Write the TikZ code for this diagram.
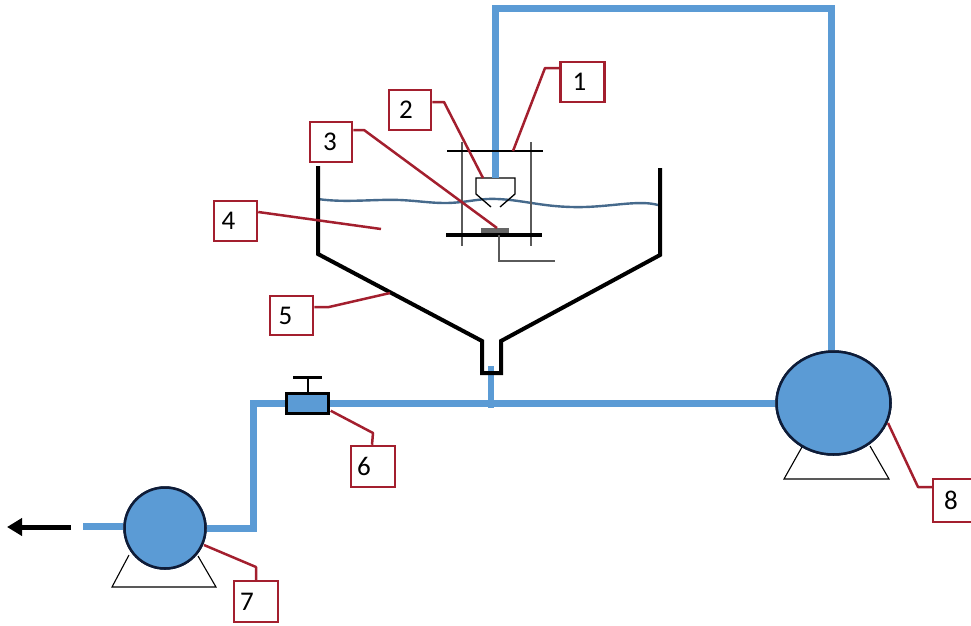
\documentclass[tikz,border=0pt]{standalone}
\usepackage{fontspec}
\setmainfont{Carlito}
\usetikzlibrary{shapes.geometric,arrows.meta,calc}
\definecolor{pipeblue}{HTML}{5B9BD5}
\definecolor{leadred}{HTML}{A31F2E}
\definecolor{navy}{HTML}{0E1C38}
\definecolor{water}{HTML}{466A8C}
\definecolor{frame}{HTML}{5A5A5A}
\definecolor{samplegrey}{HTML}{666666}
\newcommand{\shifted}[2]{\makebox[0pt]{\kern#1pt #2}}
\tikzset{
  pipe/.style={draw=pipeblue,line width=7pt,line join=miter},
  lead/.style={draw=leadred,line width=2.5pt,line join=round},
  lbl/.style={draw=leadred,line width=2.5pt,fill=white,rectangle,inner sep=0pt,font=\fontsize{27}{27}\selectfont,text=black},
  pump/.style={draw=navy,line width=2.5pt,fill=pipeblue,ellipse,inner sep=0pt},
  tank/.style={draw=black,line width=4pt,line join=miter},
  stand/.style={draw=black,line width=1.1pt,line join=miter},
  thin frame/.style={draw=frame,line width=1.6pt},
}
\begin{document}
\begin{tikzpicture}[x=1pt,y=-1pt]
\useasboundingbox (0,0) rectangle (971,625);
\clip (0,0) rectangle (971,625);
% named points
\coordinate (nozzletop) at (495,178);
\coordinate (topL) at (495,8);
\coordinate (topR) at (831,8);
\coordinate (corner) at (253,403);
\coordinate (elbow) at (253,531);
\coordinate (teeTop) at (491,366);
\coordinate (teeBot) at (491,408);
\coordinate (outStart) at (83,526);
\coordinate (arrowTail) at (71,527);
\coordinate (arrowTip) at (7,527);
% stands
\draw[stand] (802,447) -- (784,479) -- (889,479) -- (870,446);
\draw[stand] (129,555) -- (112,587) -- (216,587) -- (198,556);
% nodes for pumps and valve
\node[pump,minimum width=114pt,minimum height=103pt] (p8) at (833.5,403) {};
\node[pump,minimum width=81pt,minimum height=81pt] (p7) at (165,528) {};
% pipes
\draw[pipe] (nozzletop) -- (topL) -- (topR) -- (p8.north -| topR);
\draw[pipe] (p8.west) -- (corner) -- (elbow);
\draw[pipe] (elbow |- p7.east) ++(3.5,0) -- (p7.east);
\draw[pipe] (outStart) -- (p7.west |- outStart);
\draw[draw=pipeblue,line width=6pt] (teeTop) -- (teeBot);
% redraw pumps above pipes
\node[pump,minimum width=114pt,minimum height=103pt] at (833.5,403) {};
\node[pump,minimum width=81pt,minimum height=81pt] at (165,528) {};
% valve
\node[draw=black,line width=2.5pt,fill=pipeblue,rectangle,inner sep=0pt,minimum width=42pt,minimum height=20pt] (valve) at (307.5,403.5) {};
\coordinate (handle) at (308,377);
\draw[black,line width=2.2pt] (valve.north -| handle) -- (handle);
\draw[black,line width=3pt] (293,377) -- (322,377);
% outlet arrow
\draw[black,line width=5pt,-{Triangle[length=15pt,width=17pt]}] (arrowTail) -- (arrowTip);
% water surface
\draw[water,line width=2.4pt] (318,199) .. controls (345,203) and (375,199) .. (400,200)
  .. controls (420,201) and (430,203) .. (445,203)
  .. controls (465,203) and (480,198) .. (497,199)
  .. controls (525,200) and (545,208) .. (585,207)
  .. controls (615,206) and (640,200) .. (658,205);
% tank
\draw[tank] (318,166) -- (318,254) -- (482,341) -- (482,373) -- (501,373) -- (501,341) -- (660,255) -- (660,168);
\draw[draw=pipeblue,line width=6pt] (teeTop) -- (491,371);
% frame
\draw[thin frame] (462,142) -- (462,246);
\draw[thin frame] (531,142) -- (531,246);
\draw[black,line width=1.4pt] (447,151) -- (543,151);
\coordinate (wireA) at (499,261);
\coordinate (wireB) at (555,261);
\node[draw=none,fill=samplegrey,rectangle,inner sep=0pt,minimum width=28pt,minimum height=7pt] (sample) at (495,231) {};
\draw[black,line width=3.2pt] (446,235) -- (542,235);
\draw[frame,line width=1.6pt] (499,235) -- (wireA) -- (wireB);
% nozzle
\draw[black,line width=1.3pt,line join=miter] (491,207) -- (476,194) -- (476,178) -- (515,178) -- (515,194) -- (500,207);
\draw[pipe] (nozzletop) -- (495,165);
% labels
\node[lbl,minimum width=44pt,minimum height=40pt] (b1) at (582.5,82) {\shifted{-6}{1}};
\node[lbl,minimum width=42pt,minimum height=40pt] (b2) at (410,110) {\shifted{-8}{2}};
\node[lbl,minimum width=42pt,minimum height=40pt] (b3) at (331,142) {\shifted{-2}{3}};
\node[lbl,minimum width=43pt,minimum height=40pt] (b4) at (235.5,221) {\shifted{-14}{4}};
\node[lbl,minimum width=43pt,minimum height=39pt] (b5) at (291.5,315.5) {\shifted{-12}{5}};
\node[lbl,minimum width=44pt,minimum height=41pt] (b6) at (373,466.5) {\shifted{-18}{6}};
\node[lbl,minimum width=44pt,minimum height=41pt] (b7) at (256,601.5) {\shifted{-18}{7}};
\node[lbl,minimum width=44pt,minimum height=43pt] (b8) at (955,500.5) {\shifted{-8}{8}};
% leaders
\draw[lead] (b1.west |- 0,68) -- (545,68) -- (513,151);
\draw[lead] (b2.east |- 0,102) -- (444,102) -- (483,178);
\draw[lead] (b3.east |- 0,130) -- (364,130) -- (497,228);
\draw[lead] (b4.east |- 0,212) -- (381,229);
\draw[lead] (b5.east |- 0,307) -- (329,307) -- (390,293);
\draw[lead] (valve.south east) ++(1,-4) -- (373,433) -- (b6.north -| 372,0);
\draw[lead] (204,545) -- (256,567) -- (b7.north);
\draw[lead] (888,423) -- (918,487) -- (b8.west |- 0,487);
\end{tikzpicture}
\end{document}
